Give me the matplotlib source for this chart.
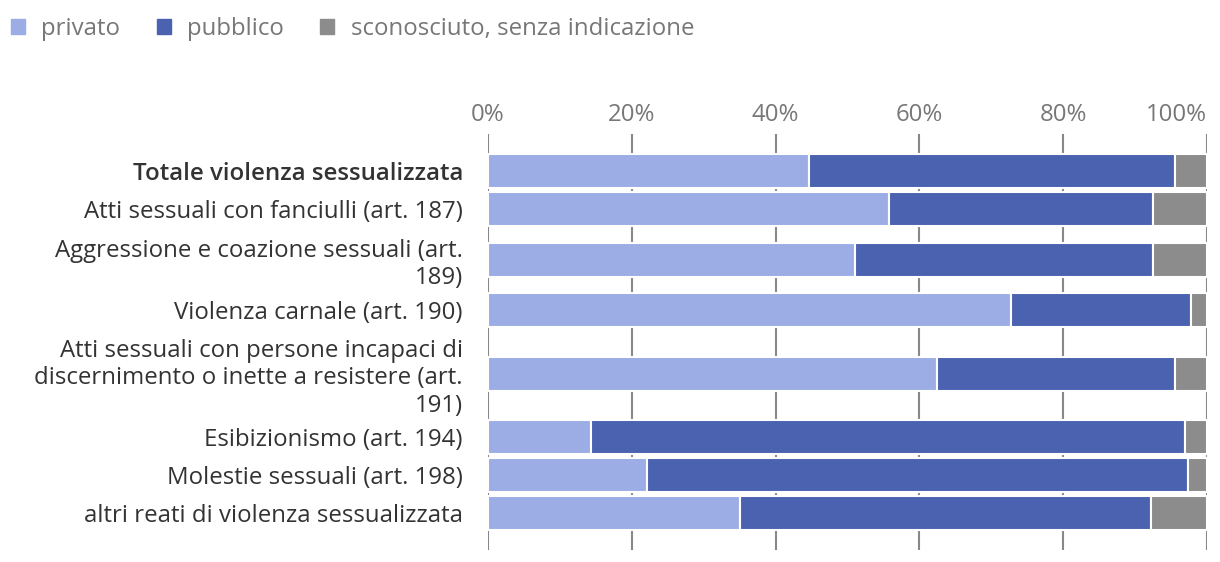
import matplotlib.pyplot as plt
from matplotlib.patches import Patch

plt.rcParams['font.family'] = ['Open Sans', 'DejaVu Sans']

categories = [
    "Totale violenza sessualizzata",
    "Atti sessuali con fanciulli (art. 187)",
    "Aggressione e coazione sessuali (art.\n189)",
    "Violenza carnale (art. 190)",
    "Atti sessuali con persone incapaci di\ndiscernimento o inette a resistere (art.\n191)",
    "Esibizionismo (art. 194)",
    "Molestie sessuali (art. 198)",
    "altri reati di violenza sessualizzata",
]
privato = [44.6, 55.8, 51.0, 72.7, 62.4, 14.3, 22.1, 35.0]
pubblico = [50.9, 36.7, 41.5, 25.1, 33.1, 82.7, 75.2, 57.2]
sconosciuto = [4.5, 7.5, 7.5, 2.2, 4.5, 3.0, 2.7, 7.8]

series_names = ["privato", "pubblico", "sconosciuto, senza indicazione"]
colors = ["#9BADE4", "#4A62B0", "#8C8C8C"]
fs = 17.3

fig = plt.figure(figsize=(12.2, 5.62), dpi=100)
ax = fig.add_axes([488 / 1220, 1 - 550 / 562, (1207 - 488) / 1220, 416 / 562])

# row height grows with the number of label lines (pixel units)
pad = 18
y = []
pos = pad
for c in categories:
    n = c.count("\n") + 1
    h = 38 + 25 * (n - 1)
    y.append(pos + h / 2)
    pos += h
ax.set_ylim(pos + pad, 0)

left = [0] * len(categories)
for vals, name, col in zip([privato, pubblico, sconosciuto], series_names, colors):
    ax.barh(y, vals, left=left, height=34, color=col, edgecolor="white",
            linewidth=1.5, label=name, zorder=3)
    left = [a + b for a, b in zip(left, vals)]

ax.set_xlim(0, 100)
ax.set_xticks([0, 20, 40, 60, 80, 100])
ax.set_xticklabels(["0%", "20%", "40%", "60%", "80%", "100%"],
                   fontsize=fs, color="#777777")
ax.xaxis.tick_top()
ax.tick_params(axis="x", length=0, pad=5)
ax.set_yticks(y)
ylabels = ax.set_yticklabels(categories, linespacing=1.2, fontsize=fs, color="#333333")
ylabels[0].set_fontweight("semibold")
ax.tick_params(axis="y", length=0, pad=18)
ax.grid(axis="x", color="#888888", linewidth=1.5, zorder=0)
for s in ax.spines.values():
    s.set_visible(False)

handles = [Patch(color=c, label=n) for c, n in zip(colors, series_names)]
fig.legend(handles=handles, loc="upper left", bbox_to_anchor=(0.0, 0.989), ncol=3,
           frameon=False, fontsize=fs, labelcolor="#777777",
           handlelength=0.58, handleheight=0.58, handletextpad=0.68,
           columnspacing=1.52, borderaxespad=0.15, borderpad=0.3)

fig.canvas.draw()
ax.get_xticklabels()[-1].set_horizontalalignment("right")
fig.savefig("out.png", dpi=100)
